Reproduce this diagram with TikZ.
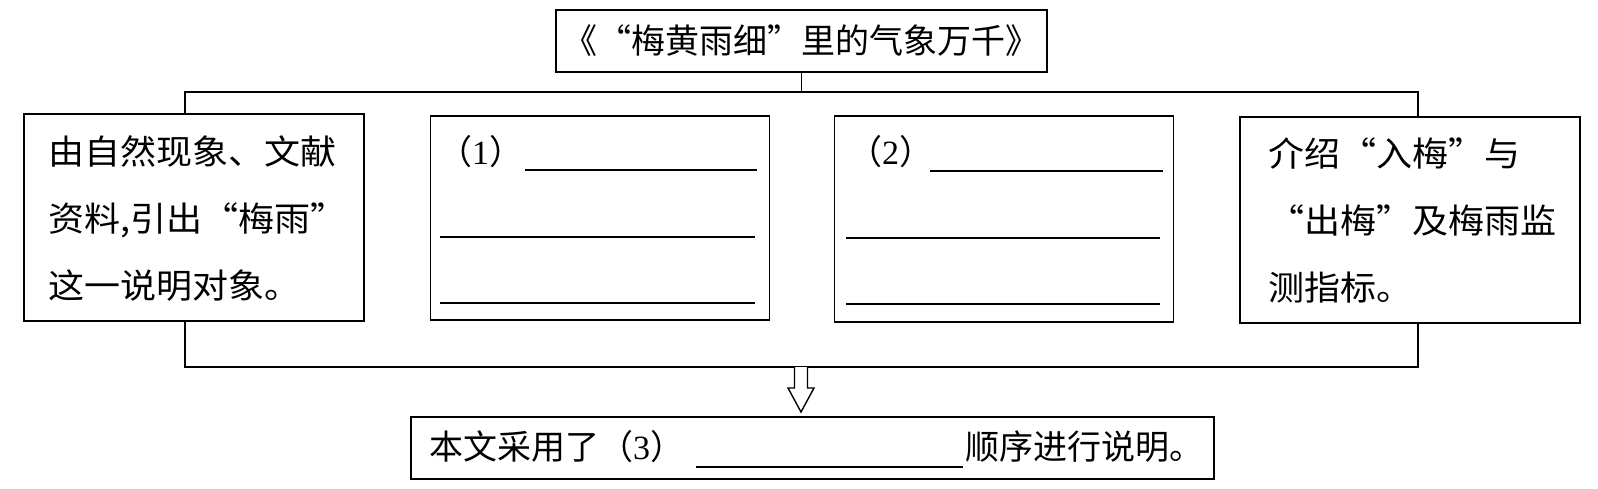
\documentclass[tikz,border=0pt]{standalone}
\usepackage{fontspec}
\usetikzlibrary{calc}
\setmainfont{Liberation Serif}
\newfontfamily\cjk{Noto Sans CJK SC}
\newfontfamily\cjkw{Noto Sans CJK SC}[FakeStretch=1.06]
\begin{document}
\begin{tikzpicture}[x=1pt,y=-1pt,
  box/.style={draw,line width=1.6pt,inner sep=0pt},
  txt/.style={font=\cjk\fontsize{34}{67}\selectfont,inner sep=0pt,align=left},
  txtw/.style={font=\cjkw\fontsize{34}{67}\selectfont,inner sep=0pt,align=left},
  conn/.style={line width=1.6pt},
  blank/.style={line width=1.3pt}]
\fill[white] (0,0) rectangle (1598,489);
\useasboundingbox (0,0) rectangle (1598,489);
% boxes
\node[box,minimum width=491pt,minimum height=62pt] (T) at (801.5,41) {};
\node[box,minimum width=340pt,minimum height=207pt] (L) at (194,217.5) {};
\node[box,minimum width=339pt,minimum height=204pt] (M1) at (600,218) {};
\node[box,minimum width=339pt,minimum height=206pt] (M2) at (1004,219) {};
\node[box,minimum width=340pt,minimum height=206pt] (R) at (1410,220) {};
\node[box,minimum width=803pt,minimum height=62pt] (B) at (812.5,448) {};
% texts
\node[txt,anchor=center] (Tt) at (T.center) {《“梅黄雨细”里的气象万千》};
\node[txtw,anchor=west] (Lt) at (48,219) {由自然现象、文献\\资料,引出“梅雨”\\这一说明对象。};
\node[txtw,anchor=west] (Rt) at (1268,220) {介绍“入梅”与\\“出梅”及梅雨监\\测指标。};
\node[txt,anchor=west] (M1t) at (438,152) {（\rmfamily 1\cjk）};
\node[txt,anchor=west] (M2t) at (848,152) {（\rmfamily 2\cjk）};
\node[txt,anchor=west] (Bt1) at (429,447) {本文采用了（\rmfamily 3\cjk）};
\node[txt,anchor=west] (Bt2) at (965,447) {顺序进行说明。};
% blanks
\coordinate (u1a) at (525,170); \coordinate (u1b) at (757,170);
\coordinate (u2a) at (440,237); \coordinate (u2b) at (755,237);
\coordinate (u3a) at (440,303); \coordinate (u3b) at (755,303);
\draw[blank] (u1a) -- (u1b); \draw[blank] (u2a) -- (u2b); \draw[blank] (u3a) -- (u3b);
\coordinate (v1a) at (930,171); \coordinate (v1b) at (1163,171);
\coordinate (v2a) at (846,238); \coordinate (v2b) at (1160,238);
\coordinate (v3a) at (846,304); \coordinate (v3b) at (1160,304);
\draw[blank] (v1a) -- (v1b); \draw[blank] (v2a) -- (v2b); \draw[blank] (v3a) -- (v3b);
\coordinate (wa) at (696,467); \coordinate (wb) at (963,467);
\draw[blank] (wa) -- (wb);
% connectors
\coordinate (tl) at (185,92); \coordinate (tr) at (1418,92);
\draw[conn] (T.south) -- (T.south |- tl);
\draw[conn] (L.north -| tl) -- (tl) -- (tr) -- (R.north -| tr);
\coordinate (bl) at (185,367); \coordinate (br) at (1418,367);
\draw[conn] (L.south -| bl) -- (bl) -- (br) -- (R.south -| br);
% hollow arrow
\coordinate (ah) at (801,367);
\draw[line width=1.4pt,line join=miter,fill=white]
  ($(ah)+(-6.5,0)$) -- ($(ah)+(-6.5,21)$) -- ($(ah)+(-13,21)$) -- ($(ah)+(0,45)$)
  -- ($(ah)+(13,21)$) -- ($(ah)+(6.5,21)$) -- ($(ah)+(6.5,0)$);
\end{tikzpicture}
\end{document}
